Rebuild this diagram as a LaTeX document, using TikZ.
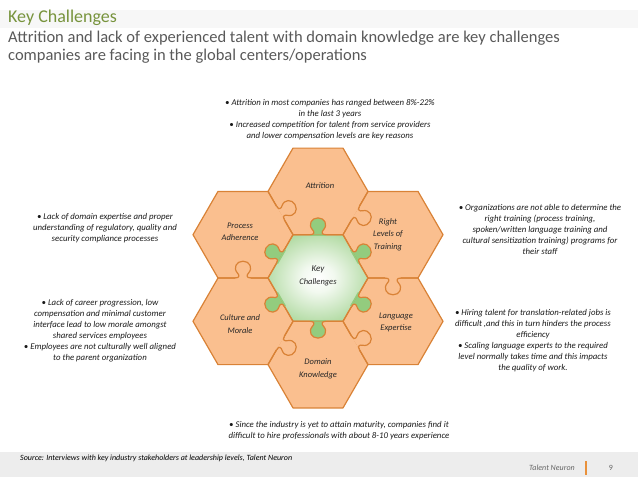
\documentclass[tikz,border=0pt]{standalone}
\usepackage{fontspec}
\setmainfont{Carlito}
\usetikzlibrary{positioning,calc}
\definecolor{cellfill}{HTML}{FABF8F}
\definecolor{celledge}{HTML}{D98236}
\definecolor{keygreen}{HTML}{93CC7E}
\colorlet{keypale}{white!88!keygreen}
\definecolor{titlegreen}{HTML}{77933C}
\definecolor{subgray}{HTML}{595959}
\definecolor{footgray}{HTML}{EDEDED}
\definecolor{topband}{HTML}{F7F7F7}
\definecolor{barorange}{HTML}{E9913B}
\pgfdeclareradialshading{keyglow}{\pgfpoint{0bp}{0bp}}{color(0bp)=(white); color(8bp)=(keypale); color(36bp)=(keygreen); color(75bp)=(keygreen)}
% one hexagon cell, flat top, side 50
\newcommand{\hexcell}[1]{($(#1)+(50,0)$) -- ++(-25,43.3) -- ++(-50,0) -- ++(-25,-43.3) -- ++(25,-43.3) -- ++(50,0) -- cycle}
% puzzle tab, drawn in local frame (edge along x, tab towards +y)
\newcommand{\tabcurve}{(-7,0) .. controls (-3,0) and (-3,2.5) .. (-5,4.5) .. controls (-9,9) and (-6,15) .. (0,15) .. controls (6,15) and (9,9) .. (5,4.5) .. controls (3,2.5) and (3,0) .. (7,0)}
\newcommand{\puzzletab}[4]{%
  \begin{scope}[shift={($(#1)!0.5!(#2)$)}, rotate={90-(#3)}, scale=1.12]
    \fill[#4] (-7,-1.5) rectangle (7,0);
    \fill[#4] \tabcurve -- cycle;
    \draw[celloutline] \tabcurve;
  \end{scope}}

\begin{document}
\begin{tikzpicture}[x=1pt,y=-1pt,
  cell/.style={fill=cellfill},
  celloutline/.style={draw=celledge, line width=1.2pt, line join=round},
  celltext/.style={font=\itshape\fontsize{8.5}{12.5}\selectfont, align=center, text=black!85},
  note/.style={font=\itshape\fontsize{8.8}{11}\selectfont, align=center, inner sep=0pt, text=black!90}]
\useasboundingbox (0,0) rectangle (638,479);
% header and footer bands
\fill[topband] (0,10) rectangle (638,28);
\fill[footgray] (0,452) rectangle (638,477);
% heading
\node[anchor=west, inner sep=0pt, text=titlegreen, font=\fontsize{18}{20}\selectfont] (title) at (8,18) {Key Challenges};
\node[anchor=west, inner sep=0pt, text=subgray, align=left, font=\fontsize{16.5}{18}\selectfont] (subtitle) at (8,47) {Attrition and lack of experienced talent with domain knowledge are key challenges\\companies are facing in the global centers/operations};
% define cells
\coordinate (ctr) at (318,278);
\coordinate[above=86.6pt of ctr] (att);
\coordinate[above right=43.3pt and 75pt of ctr] (rlt);
\coordinate[below right=43.3pt and 75pt of ctr] (lng);
\coordinate[below=86.6pt of ctr] (dom);
\coordinate[below left=43.3pt and 75pt of ctr] (cul);
\coordinate[above left=43.3pt and 75pt of ctr] (prc);
% draw cells
\foreach \c in {att,rlt,lng,dom,cul,prc}
  \fill[cell] \hexcell{\c};
\shade[shading=keyglow] \hexcell{ctr};
\foreach \c in {ctr,att,rlt,lng,dom,cul,prc}
  \draw[celloutline] \hexcell{\c};
% puzzle tabs (owner, neighbour, direction, colour)
\puzzletab{ctr}{att}{-90}{keygreen}
\puzzletab{ctr}{rlt}{-30}{keygreen}
\puzzletab{ctr}{lng}{30}{keygreen}
\puzzletab{ctr}{dom}{90}{keygreen}
\puzzletab{ctr}{cul}{150}{keygreen}
\puzzletab{ctr}{prc}{210}{keygreen}
\puzzletab{prc}{att}{-30}{cellfill}
\puzzletab{att}{rlt}{30}{cellfill}
\puzzletab{rlt}{lng}{90}{cellfill}
\puzzletab{dom}{lng}{-30}{cellfill}
\puzzletab{cul}{dom}{30}{cellfill}
\puzzletab{cul}{prc}{-90}{cellfill}
% cell labels
\node[celltext] (ctrlabel) at ($(ctr)+(0,-2)$) {\fontsize{9}{14}\selectfont Key\\Challenges};
\node[celltext] (attlabel) at ($(att)+(2,-6)$) {Attrition};
\node[celltext] (rltlabel) at ($(rlt)+(-5,0)$) {Right\\Levels of\\Training};
\node[celltext] (lnglabel) at ($(lng)+(3,1)$) {Language\\Expertise};
\node[celltext] (domlabel) at ($(dom)+(0,4)$) {Domain\\Knowledge};
\node[celltext] (cullabel) at ($(cul)+(-3,3)$) {Culture and\\Morale};
\node[celltext] (prclabel) at ($(prc)+(-3,-3)$) {Process\\Adherence};
% notes round the puzzle
\node[note] (attnote) at (330,119.5) {• Attrition in most companies has ranged between 8\%-22\%\\in the last 3 years\\• Increased competition for talent from service providers\\and lower compensation levels are key reasons};
\node[note] (rltnote) at (540,229) {• Organizations are not able to determine the\\right training (process training,\\spoken/written language training and\\cultural sensitization training) programs for\\their staff};
\node[note] (lngnote) at (533,341) {• Hiring talent for translation-related jobs is\\difficult ,and this in turn hinders the process\\efficiency\\• Scaling language experts to the required\\level normally takes time and this impacts\\the quality of work.};
\node[note] (domnote) at (339,430.5) {• Since the industry is yet to attain maturity, companies find it\\difficult to hire professionals with about 8-10 years experience};
\node[note] (culnote) at (100,331) {• Lack of career progression, low\\compensation and minimal customer\\interface lead to low morale amongst\\shared services employees\\• Employees are not culturally well aligned\\to the parent organization};
\node[note] (prcnote) at (105,228) {• Lack of domain expertise and proper\\understanding of regulatory, quality and\\security compliance processes};
% footer
\node[anchor=west, inner sep=0pt, font=\itshape\fontsize{8}{10}\selectfont] (source) at (20,458) {Source: Interviews with key industry stakeholders at leadership levels, Talent Neuron};
\node[anchor=east, inner sep=0pt, text=black!60, font=\itshape\fontsize{8}{10}\selectfont] (brand) at (575,468) {Talent Neuron};
\node[inner sep=0pt, text=black!60, font=\fontsize{8}{10}\selectfont] (pageno) at (611,468) {9};
\coordinate (bartop) at (586,461);
\coordinate (barbot) at (586,475);
\draw[barorange, line width=1.2pt] (bartop) -- (barbot);
\end{tikzpicture}
\end{document}
